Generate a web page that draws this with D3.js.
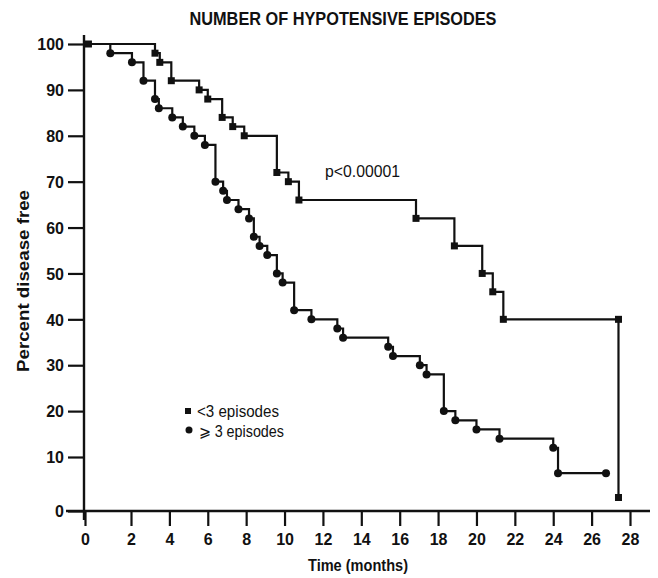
<!DOCTYPE html>
<html>
<head>
<meta charset="utf-8">
<script src="https://cdn.jsdelivr.net/npm/d3@7"></script>
<style>
  html, body { margin: 0; padding: 0; background: #fff; }
  svg { display: block; }
</style>
</head>
<body>
<div id="chart"></div>
<script>
// ---- data ----
const xTicks = [0, 2, 4, 6, 8, 10, 12, 14, 16, 18, 20, 22, 24, 26, 28];
const yTicks = [0, 10, 20, 30, 40, 50, 60, 70, 80, 90, 100];

// < 3 episodes (squares): time of each drop and the level after it
const fewTimes  = [3.25, 3.5, 4.1, 5.55, 6.0, 6.75, 7.3, 7.9, 9.6, 10.2, 10.75, 16.85, 18.85, 20.3, 20.85, 21.4, 27.4];
const fewValues = [98, 96, 92, 90, 88, 84, 82, 80, 72, 70, 66, 62, 56, 50, 46, 40, 2.5];
const fewExtra  = [[0.15, 100], [27.4, 40]];   // markers not on a drop

// >= 3 episodes (circles)
const manyTimes  = [1.1, 2.05, 2.65, 3.25, 3.45, 4.15, 4.7, 5.3, 5.85, 6.4, 6.8, 7.0, 7.6, 8.15, 8.4, 8.7, 9.1,
                    9.6, 9.9, 10.5, 11.4, 12.75, 13.05, 15.4, 15.65, 17.05, 17.4, 18.3, 18.9, 20.0, 21.2, 24.0, 24.25];
const manyValues = [98, 96, 92, 88, 86, 84, 82, 80, 78, 70, 68, 66, 64, 62, 58, 56, 54,
                    50, 48, 42, 40, 38, 36, 34, 32, 30, 28, 20, 18, 16, 14, 12, 7];
const manyExtra  = [[26.75, 7]];

const W = 658, H = 578;
const INK = "#111";
const FONT = "'Liberation Sans', Arial, sans-serif";

// the printed axes are not quite linear near the origin
const x = d3.scaleLinear().domain([0, 2, 28]).range([85, 131, 630]);
const y = d3.scaleLinear().domain([0, 10, 100]).range([511, 457, 44]);

const svg = d3.select("#chart").append("svg")
  .attr("width", W).attr("height", H)
  .attr("viewBox", `0 0 ${W} ${H}`)
  .style("font-family", FONT);

svg.append("rect").attr("width", W).attr("height", H).attr("fill", "#fff");

// title
svg.append("text")
  .attr("x", 343).attr("y", 25)
  .attr("text-anchor", "middle")
  .attr("font-size", 18.5).attr("font-weight", "bold")
  .attr("textLength", 307).attr("lengthAdjust", "spacingAndGlyphs")
  .attr("fill", INK)
  .text("NUMBER OF HYPOTENSIVE EPISODES");

// axes ------------------------------------------------------------------
const xAxis = d3.axisBottom(x).tickValues(xTicks).tickSize(15).tickSizeOuter(0).tickPadding(5);
const yAxis = d3.axisLeft(y).tickValues(yTicks).tickSize(16).tickSizeOuter(0).tickPadding(4);

const gx = svg.append("g").attr("transform", "translate(0,511)").call(xAxis);
const gy = svg.append("g").attr("transform", "translate(84,0)").call(yAxis);

[gx, gy].forEach(g => {
  g.select(".domain").remove();
  g.selectAll(".tick line").attr("stroke", INK).attr("stroke-width", 2.2);
  g.selectAll(".tick text")
    .attr("fill", INK)
    .attr("font-family", FONT)
    .attr("font-weight", "bold")
    .attr("font-size", 16);
});
gx.selectAll(".tick text").attr("dy", "0.9em");
gy.selectAll(".tick text").attr("dy", "0.36em");

// axis lines
svg.append("line").attr("x1", 84).attr("x2", 84).attr("y1", 35).attr("y2", 520)
  .attr("stroke", INK).attr("stroke-width", 2.4);
svg.append("line").attr("x1", 66).attr("x2", 650).attr("y1", 511).attr("y2", 511)
  .attr("stroke", INK).attr("stroke-width", 2.4);

// axis titles
svg.append("text")
  .attr("transform", "translate(29,281) rotate(-90)")
  .attr("text-anchor", "middle")
  .attr("font-size", 17).attr("font-weight", "bold")
  .attr("textLength", 182).attr("lengthAdjust", "spacingAndGlyphs")
  .attr("fill", INK)
  .text("Percent disease free");

svg.append("text")
  .attr("x", 358).attr("y", 571)
  .attr("text-anchor", "middle")
  .attr("font-size", 17).attr("font-weight", "bold")
  .attr("textLength", 100).attr("lengthAdjust", "spacingAndGlyphs")
  .attr("fill", INK)
  .text("Time (months)");

// curves ----------------------------------------------------------------
const line = d3.line().x(d => x(d[0])).y(d => y(d[1])).curve(d3.curveStepAfter);

function drawCurve(times, values, extra, endT, shape) {
  const steps = times.map((t, i) => [t, values[i]]);
  const pts = [[0, 100], ...steps];
  if (endT != null) pts.push([endT, values[values.length - 1]]);

  svg.append("path")
    .datum(pts)
    .attr("d", line)
    .attr("fill", "none")
    .attr("stroke", INK)
    .attr("stroke-width", 2.2);

  const marks = steps.concat(extra);
  if (shape === "square") {
    svg.append("g").selectAll("rect").data(marks).join("rect")
      .attr("x", d => x(d[0]) - 3.5)
      .attr("y", d => y(d[1]) - 3.5)
      .attr("width", 7).attr("height", 7)
      .attr("fill", INK);
  } else {
    svg.append("g").selectAll("circle").data(marks).join("circle")
      .attr("cx", d => x(d[0]))
      .attr("cy", d => y(d[1]))
      .attr("r", 4)
      .attr("fill", INK);
  }
}

drawCurve(fewTimes, fewValues, fewExtra, null, "square");
drawCurve(manyTimes, manyValues, manyExtra, 26.75, "circle");

// annotation
svg.append("text")
  .attr("x", 325).attr("y", 177)
  .attr("font-size", 16)
  .attr("textLength", 75).attr("lengthAdjust", "spacingAndGlyphs")
  .attr("fill", INK)
  .text("p<0.00001");

// legend
const legend = svg.append("g");
legend.append("rect").attr("x", 185).attr("y", 408).attr("width", 6).attr("height", 6).attr("fill", INK);
legend.append("text").attr("x", 197).attr("y", 417).attr("font-size", 16)
  .attr("textLength", 82).attr("lengthAdjust", "spacingAndGlyphs")
  .attr("fill", INK).text("<3 episodes");
legend.append("circle").attr("cx", 189).attr("cy", 430).attr("r", 3.5).attr("fill", INK);
legend.append("text").attr("x", 199).attr("y", 437).attr("font-size", 16)
  .attr("textLength", 85).attr("lengthAdjust", "spacingAndGlyphs")
  .attr("fill", INK).text("⩾ 3 episodes");
</script>
</body>
</html>
